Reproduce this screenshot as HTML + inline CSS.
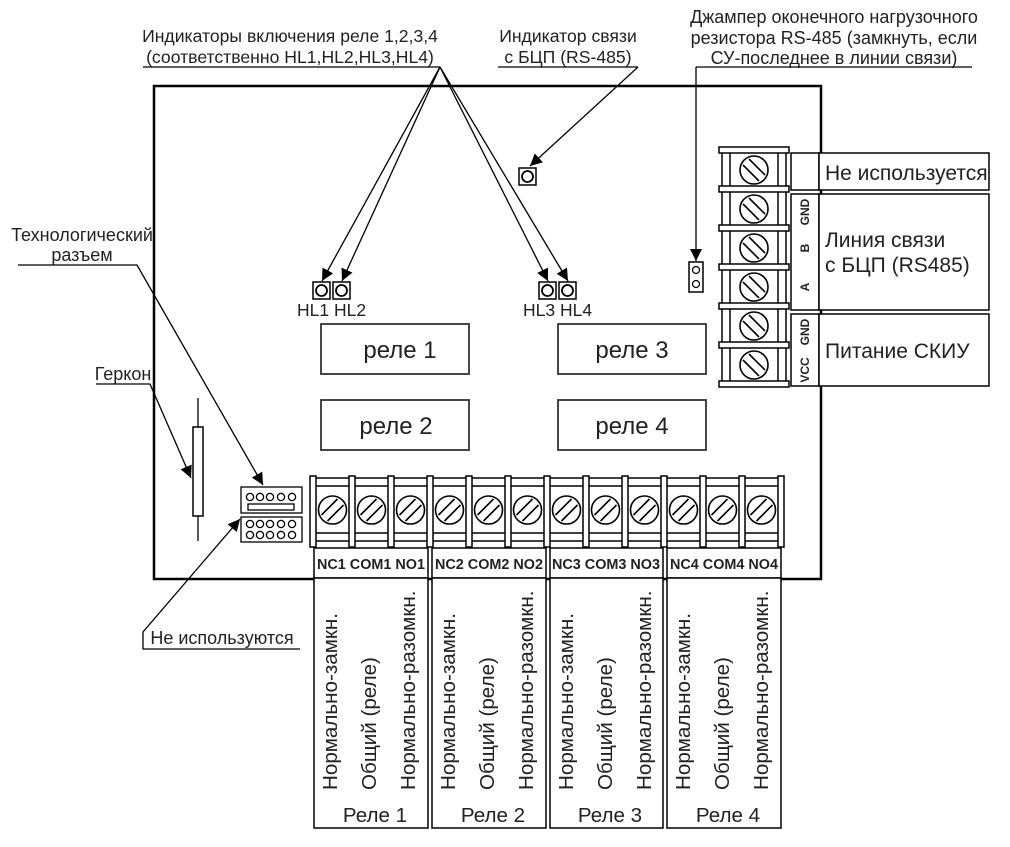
<!DOCTYPE html>
<html><head><meta charset="utf-8"><style>
html,body{margin:0;padding:0;background:#fff;}
svg{display:block;font-family:"Liberation Sans",sans-serif;}
</style></head><body>
<svg width="1010" height="847" viewBox="0 0 1010 847" xmlns="http://www.w3.org/2000/svg">
<defs>
<marker id="ar2" viewBox="0 0 10 10" refX="10" refY="5" markerWidth="16" markerHeight="12" orient="auto" markerUnits="userSpaceOnUse"><path d="M0,0 L10,5 L0,10 z" fill="#000"/></marker>
<g id="sb"><circle r="14" fill="#fff" stroke="#000" stroke-width="1.6"/><line x1="-11" y1="5" x2="5" y2="-11" stroke="#000" stroke-width="1.6"/><line x1="-5" y1="11" x2="11" y2="-5" stroke="#000" stroke-width="1.6"/></g>
<g id="sr"><circle r="14" fill="#fff" stroke="#000" stroke-width="1.6"/><line x1="-11" y1="-5" x2="5" y2="11" stroke="#000" stroke-width="1.6"/><line x1="-5" y1="-11" x2="11" y2="5" stroke="#000" stroke-width="1.6"/></g>
<g id="pv"><rect x="-3" y="0" width="6" height="71" fill="#fff" stroke="#000" stroke-width="1.5"/></g>
<g id="ph"><rect x="0" y="-3" width="70" height="6" fill="#fff" stroke="#000" stroke-width="1.5"/></g>
<g id="led"><rect x="0" y="0" width="17" height="17" fill="#fff" stroke="#000" stroke-width="1.5"/><circle cx="8.5" cy="8.5" r="5.5" fill="none" stroke="#000" stroke-width="1.8"/></g>
</defs>

<rect x="154" y="86" width="667" height="493" fill="none" stroke="#000" stroke-width="2.5"/>

<g font-size="17.6" fill="#222" text-anchor="middle">
<text x="290" y="42">Индикаторы включения реле 1,2,3,4</text>
<text x="290" y="63">(соответственно HL1,HL2,HL3,HL4)</text>
<text x="568" y="42">Индикатор связи</text>
<text x="568" y="63">с БЦП (RS-485)</text>
</g>
<g font-size="18" fill="#222" text-anchor="middle">
<text x="834" y="23">Джампер оконечного нагрузочного</text>
<text x="834" y="44">резистора RS-485 (замкнуть, если</text>
<text x="834" y="64">СУ-последнее в линии связи)</text>
<text x="82" y="241">Технологический</text>
<text x="82" y="261">разъем</text>
<text x="123" y="380">Геркон</text>
<text x="222" y="644">Не используются</text>
</g>
<g stroke="#000" stroke-width="1.3" fill="none">
<line x1="143" y1="67" x2="440" y2="67"/>
<line x1="440" y1="67" x2="322" y2="281" marker-end="url(#ar2)"/>
<line x1="440" y1="67" x2="342" y2="281" marker-end="url(#ar2)"/>
<line x1="440" y1="67" x2="548" y2="281" marker-end="url(#ar2)"/>
<line x1="440" y1="67" x2="568" y2="281" marker-end="url(#ar2)"/>
<line x1="498" y1="67" x2="638" y2="67"/>
<line x1="638" y1="67" x2="530" y2="166" marker-end="url(#ar2)"/>
<line x1="696" y1="67" x2="972" y2="67"/>
<line x1="696" y1="67" x2="696" y2="261" marker-end="url(#ar2)"/>
<polyline points="18,265 137,265 263,485" marker-end="url(#ar2)"/>
<polyline points="96,384 150,384 191,478" marker-end="url(#ar2)"/>
<polyline points="300,649 143,649 143,632 240,519" marker-end="url(#ar2)"/>
</g>

<use href="#led" x="313" y="282"/><use href="#led" x="333" y="282"/>
<use href="#led" x="539" y="282"/><use href="#led" x="559" y="282"/>
<use href="#led" x="519" y="168"/>
<g font-size="17.5" fill="#222">
<text x="297" y="316">HL1 HL2</text>
<text x="523" y="316">HL3 HL4</text>
</g>
<rect x="689" y="262" width="14" height="30" fill="#fff" stroke="#000" stroke-width="1.5"/>
<circle cx="696" cy="270" r="3.5" fill="none" stroke="#000" stroke-width="1.2"/>
<circle cx="696" cy="284" r="3.5" fill="none" stroke="#000" stroke-width="1.2"/>

<g fill="#fff" stroke="#333" stroke-width="1.8">
<rect x="321" y="324" width="148" height="50"/>
<rect x="558" y="324" width="148" height="50"/>
<rect x="321" y="400" width="148" height="50"/>
<rect x="558" y="400" width="148" height="50"/>
</g>
<g font-size="24" fill="#222" text-anchor="middle">
<text x="400" y="358">реле 1</text>
<text x="632" y="358">реле 3</text>
<text x="396" y="434">реле 2</text>
<text x="632" y="434">реле 4</text>
</g>

<line x1="198" y1="398" x2="198" y2="541" stroke="#000" stroke-width="1.3"/>
<rect x="193" y="427" width="10" height="89" fill="#fff" stroke="#000" stroke-width="1.5"/>

<g stroke="#000" stroke-width="1.3" fill="#fff">
<rect x="241" y="487" width="61" height="26"/>
<rect x="248" y="504" width="46" height="6"/>
<rect x="241" y="517" width="61" height="25"/>
<circle cx="250" cy="497" r="3.6"/><circle cx="260" cy="497" r="3.6"/><circle cx="270" cy="497" r="3.6"/><circle cx="281" cy="497" r="3.6"/><circle cx="292" cy="497" r="3.6"/>
<circle cx="250" cy="524" r="3.6"/><circle cx="260" cy="524" r="3.6"/><circle cx="270" cy="524" r="3.6"/><circle cx="281" cy="524" r="3.6"/><circle cx="292" cy="524" r="3.6"/>
<circle cx="250" cy="535" r="3.6"/><circle cx="260" cy="535" r="3.6"/><circle cx="270" cy="535" r="3.6"/><circle cx="281" cy="535" r="3.6"/><circle cx="292" cy="535" r="3.6"/>
</g>

<rect x="313" y="477" width="468" height="71" fill="#fff" stroke="none"/>
<g stroke="#000" stroke-width="1.5">
<line x1="313" y1="478" x2="781" y2="478"/><line x1="313" y1="486" x2="781" y2="486"/>
<line x1="313" y1="533" x2="781" y2="533"/><line x1="313" y1="541" x2="781" y2="541"/>
</g>
<g>
<use href="#pv" x="313" y="476"/><use href="#pv" x="352" y="476"/><use href="#pv" x="391" y="476"/><use href="#pv" x="430" y="476"/><use href="#pv" x="469" y="476"/><use href="#pv" x="508" y="476"/><use href="#pv" x="547" y="476"/><use href="#pv" x="586" y="476"/><use href="#pv" x="625" y="476"/><use href="#pv" x="664" y="476"/><use href="#pv" x="703" y="476"/><use href="#pv" x="742" y="476"/><use href="#pv" x="781" y="476"/>
<use href="#sb" x="332.5" y="510"/><use href="#sb" x="371.5" y="510"/><use href="#sb" x="410.5" y="510"/><use href="#sb" x="449.5" y="510"/><use href="#sb" x="488.5" y="510"/><use href="#sb" x="527.5" y="510"/><use href="#sb" x="566.5" y="510"/><use href="#sb" x="605.5" y="510"/><use href="#sb" x="644.5" y="510"/><use href="#sb" x="683.5" y="510"/><use href="#sb" x="722.5" y="510"/><use href="#sb" x="761.5" y="510"/>
</g>

<g fill="#fff" stroke="#000" stroke-width="1.5">
<rect x="314" y="548" width="114" height="30"/><rect x="314" y="578" width="114" height="250"/>
<rect x="432" y="548" width="114" height="30"/><rect x="432" y="578" width="114" height="250"/>
<rect x="550" y="548" width="113" height="30"/><rect x="550" y="578" width="113" height="250"/>
<rect x="667" y="548" width="114" height="30"/><rect x="667" y="578" width="114" height="250"/>
</g>
<g font-size="14.4" font-weight="bold" fill="#222" text-anchor="middle">
<text x="371" y="569">NC1 COM1 NO1</text>
<text x="489" y="569">NC2 COM2 NO2</text>
<text x="606" y="569">NC3 COM3 NO3</text>
<text x="724" y="569">NC4 COM4 NO4</text>
</g>
<g font-size="20.6" fill="#222">
<text transform="translate(337,790) rotate(-90)">Нормально-замкн.</text>
<text transform="translate(376,790) rotate(-90)">Общий (реле)</text>
<text transform="translate(415,790) rotate(-90)">Нормально-разомкн.</text>
<text transform="translate(455,790) rotate(-90)">Нормально-замкн.</text>
<text transform="translate(494,790) rotate(-90)">Общий (реле)</text>
<text transform="translate(533,790) rotate(-90)">Нормально-разомкн.</text>
<text transform="translate(573,790) rotate(-90)">Нормально-замкн.</text>
<text transform="translate(612,790) rotate(-90)">Общий (реле)</text>
<text transform="translate(651,790) rotate(-90)">Нормально-разомкн.</text>
<text transform="translate(690,790) rotate(-90)">Нормально-замкн.</text>
<text transform="translate(729,790) rotate(-90)">Общий (реле)</text>
<text transform="translate(768,790) rotate(-90)">Нормально-разомкн.</text>
</g>
<g font-size="20.6" fill="#222" text-anchor="middle">
<text x="375" y="822">Реле 1</text>
<text x="493" y="822">Реле 2</text>
<text x="610" y="822">Реле 3</text>
<text x="728" y="822">Реле 4</text>
</g>

<rect x="720" y="150" width="68" height="234" fill="#fff"/>
<g stroke="#000" stroke-width="1.5">
<line x1="722" y1="150" x2="722" y2="384"/><line x1="730" y1="150" x2="730" y2="384"/>
<line x1="778" y1="150" x2="778" y2="384"/><line x1="786" y1="150" x2="786" y2="384"/>
</g>
<use href="#ph" x="719" y="150"/><use href="#ph" x="719" y="189"/><use href="#ph" x="719" y="228"/><use href="#ph" x="719" y="267"/><use href="#ph" x="719" y="306"/><use href="#ph" x="719" y="345"/><use href="#ph" x="719" y="384"/>
<use href="#sr" x="754" y="170"/><use href="#sr" x="754" y="209"/><use href="#sr" x="754" y="248"/><use href="#sr" x="754" y="287"/><use href="#sr" x="754" y="326"/><use href="#sr" x="754" y="365"/>

<g fill="#fff" stroke="#000" stroke-width="1.5">
<rect x="791" y="153" width="28" height="37"/><rect x="819" y="153" width="170" height="37"/>
<rect x="791" y="194" width="28" height="116"/><rect x="819" y="194" width="170" height="116"/>
<rect x="791" y="314" width="28" height="72"/><rect x="819" y="314" width="170" height="72"/>
</g>
<g font-size="12" font-weight="bold" fill="#222" text-anchor="middle">
<text transform="translate(809,212) rotate(-90)">GND</text>
<text transform="translate(809,248) rotate(-90)">B</text>
<text transform="translate(809,287) rotate(-90)">A</text>
<text transform="translate(809,332) rotate(-90)">GND</text>
<text transform="translate(809,370) rotate(-90)">VCC</text>
</g>
<g font-size="21" fill="#222">
<text x="825" y="180">Не используется</text>
<text x="825" y="247">Линия связи</text>
<text x="825" y="272">с БЦП (RS485)</text>
<text x="825" y="358">Питание СКИУ</text>
</g>
</svg>
</body></html>
